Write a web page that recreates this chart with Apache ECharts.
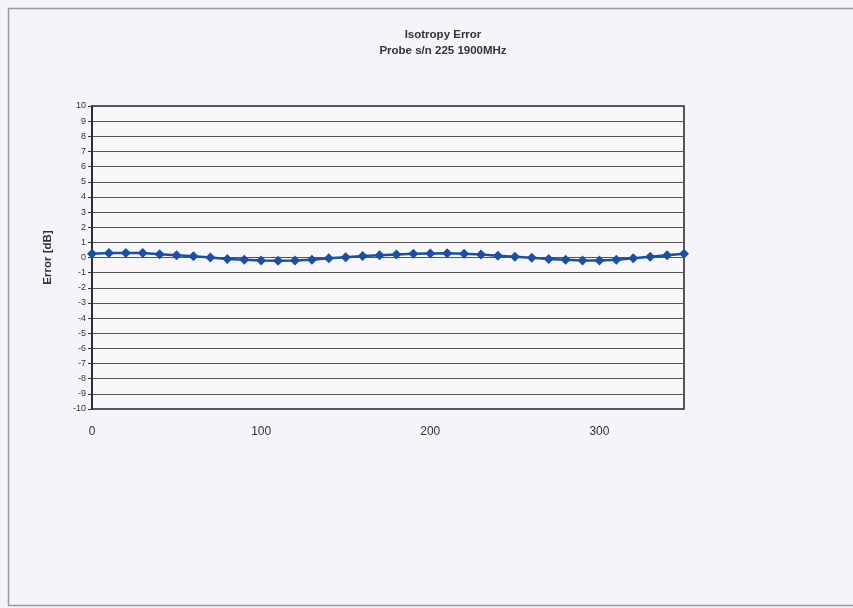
<!DOCTYPE html>
<html><head><meta charset="utf-8">
<script src="https://cdn.jsdelivr.net/npm/echarts@6/dist/echarts.min.js"></script>
<style>html,body{margin:0;padding:0;background:#f5f5f9;}#c{width:853px;height:608px;}</style>
</head><body><div id="c"></div>
<script>
const titleText = 'Isotropy Error';
const subtitleText = 'Probe s/n 225 1900MHz';
const yAxisName = 'Error [dB]';
const angles = [0,10,20,30,40,50,60,70,80,90,100,110,120,130,140,150,160,170,180,190,200,210,220,230,240,250,260,270,280,290,300,310,320,330,340,350];
const errors = [0.25,0.3,0.3,0.3,0.22,0.15,0.08,0.0,-0.1,-0.15,-0.2,-0.22,-0.2,-0.15,-0.05,0.02,0.1,0.15,0.2,0.25,0.27,0.28,0.25,0.2,0.12,0.05,-0.02,-0.1,-0.15,-0.2,-0.2,-0.15,-0.05,0.05,0.15,0.25];
const xTicks = [0,100,200,300];

const chart = echarts.init(document.getElementById('c'));
chart.setOption({
  backgroundColor: '#f5f5f9',
  animation: false,
  title: {
    text: titleText + '\n' + subtitleText,
    left: 438, top: 22, textAlign: 'center',
    textStyle: {fontFamily: 'Liberation Sans', fontSize: 11.5, fontWeight: 'bold', color: '#333', lineHeight: 16}
  },
  graphic: [{
    type: 'rect', shape: {x: 8.5, y: 8.5, width: 850, height: 597},
    style: {fill: 'none', stroke: '#9a9a9a', lineWidth: 1.5}, silent: true
  }],
  grid: {left: 92, top: 106, width: 592, height: 303, show: true, borderColor: '#222', borderWidth: 1.5, backgroundColor: '#f7f7fa'},
  xAxis: {
    type: 'value', min: 0, max: 350, interval: 100,
    axisLine: {show: false}, axisTick: {show: false}, splitLine: {show: false},
    axisLabel: {showMaxLabel: false, margin: 17, fontFamily: 'Liberation Sans', fontSize: 12, color: '#333',
      formatter: v => xTicks.includes(v) ? String(v) : ''}
  },
  yAxis: {
    type: 'value', min: -10, max: 10, interval: 1,
    name: yAxisName, nameLocation: 'middle', nameGap: 38, nameRotate: 90,
    nameTextStyle: {fontFamily: 'Liberation Sans', fontSize: 11.5, fontWeight: 'bold', color: '#333'},
    axisLine: {show: true, lineStyle: {color: '#222', width: 1.5}},
    axisTick: {show: true, length: 4, lineStyle: {color: '#333'}},
    splitLine: {show: true, lineStyle: {color: '#555', width: 1}},
    axisLabel: {fontFamily: 'Liberation Sans', fontSize: 9, color: '#333', margin: 6}
  },
  series: [{
    type: 'line',
    data: angles.map((a, i) => [a, errors[i]]),
    symbol: 'diamond', symbolSize: 10,
    lineStyle: {color: '#1b4fa3', width: 2.5},
    itemStyle: {color: '#1b4fa3'}
  }]
});
</script></body></html>
